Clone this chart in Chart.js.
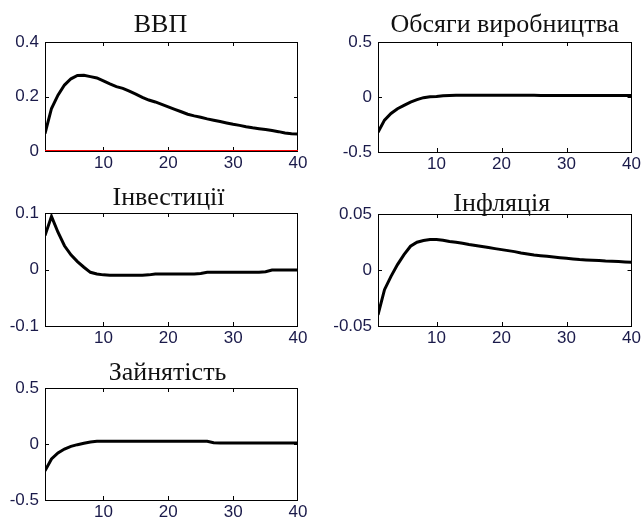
<!DOCTYPE html>
<html>
<head>
<meta charset="utf-8">
<script src="https://cdn.jsdelivr.net/npm/chart.js@4"></script>
<style>
  body { margin: 0; background: #fff; }
  #wrap { position: relative; width: 643px; height: 525px; }
  #wrap canvas { position: absolute; }
</style>
</head>
<body>
<div id="wrap"></div>
<script>
// periods of the impulse response
const periods = [1, 2, 3, 4, 5, 6, 7, 8, 9, 10, 11, 12, 13, 14, 15, 16, 17, 18, 19, 20,
                 21, 22, 23, 24, 25, 26, 27, 28, 29, 30, 31, 32, 33, 34, 35, 36, 37, 38, 39, 40];
const xTicks = [10, 20, 30, 40];

const titles = ['ВВП', 'Обсяги виробництва', 'Інвестиції', 'Інфляція', 'Зайнятість'];

const gdp = [0.064, 0.156, 0.205, 0.242, 0.265, 0.277, 0.278, 0.273, 0.268, 0.257,
             0.246, 0.236, 0.230, 0.220, 0.209, 0.197, 0.187, 0.180, 0.171, 0.162,
             0.153, 0.144, 0.135, 0.129, 0.124, 0.118, 0.113, 0.108, 0.103, 0.098,
             0.094, 0.089, 0.085, 0.082, 0.079, 0.075, 0.071, 0.066, 0.063, 0.062];
const gdpZero = [0, 0, 0, 0, 0, 0, 0, 0, 0, 0, 0, 0, 0, 0, 0, 0, 0, 0, 0, 0,
                 0, 0, 0, 0, 0, 0, 0, 0, 0, 0, 0, 0, 0, 0, 0, 0, 0, 0, 0, 0];
const output = [-0.32, -0.21, -0.15, -0.107, -0.076, -0.046, -0.024, -0.006, 0.003, 0.004,
                0.012, 0.014, 0.015, 0.015, 0.015, 0.015, 0.015, 0.015, 0.015, 0.015,
                0.015, 0.015, 0.015, 0.015, 0.015, 0.014, 0.014, 0.014, 0.014, 0.014,
                0.014, 0.014, 0.014, 0.014, 0.014, 0.014, 0.014, 0.014, 0.014, 0.013];
const investment = [0.060, 0.094, 0.066, 0.042, 0.026, 0.014, 0.004, -0.005, -0.008, -0.0095,
                    -0.010, -0.010, -0.010, -0.010, -0.010, -0.010, -0.0095, -0.008, -0.008, -0.008,
                    -0.008, -0.008, -0.008, -0.008, -0.007, -0.005, -0.005, -0.005, -0.005, -0.005,
                    -0.005, -0.005, -0.005, -0.005, -0.004, -0.001, -0.001, -0.001, -0.001, -0.001];
const inflation = [-0.040, -0.0176, -0.0057, 0.0048, 0.0137, 0.0212, 0.0248, 0.0263, 0.0272, 0.0272,
                   0.0266, 0.0254, 0.0248, 0.0239, 0.0227, 0.0218, 0.0209, 0.0200, 0.0191, 0.0182,
                   0.0173, 0.0164, 0.0152, 0.0143, 0.0134, 0.0128, 0.0122, 0.0116, 0.0110, 0.0104,
                   0.0099, 0.0093, 0.0090, 0.0087, 0.0084, 0.0080, 0.0078, 0.0075, 0.0072, 0.0070];
const employment = [-0.24, -0.134, -0.08, -0.045, -0.021, -0.006, 0.006, 0.018, 0.024, 0.024,
                    0.024, 0.024, 0.024, 0.024, 0.024, 0.024, 0.024, 0.024, 0.024, 0.024,
                    0.024, 0.024, 0.024, 0.024, 0.024, 0.024, 0.012, 0.010, 0.010, 0.010,
                    0.010, 0.010, 0.009, 0.009, 0.009, 0.009, 0.009, 0.008, 0.008, 0.008];

const gdpTicks = [0, 0.2, 0.4];
const outputTicks = [-0.5, 0, 0.5];
const investmentTicks = [-0.1, 0, 0.1];
const inflationTicks = [-0.05, 0, 0.05];
const employmentTicks = [-0.5, 0, 0.5];

// layout: cell = canvas rect, box = plot area (page px)
const panels = [
  { title: titles[0], values: gdp, zero: gdpZero, yTicks: gdpTicks, cell: [0, 0, 322, 180], box: [45, 42, 298, 151], titleDx: -11, titleGap: 10 },
  { title: titles[1], values: output, yTicks: outputTicks, cell: [322, 0, 321, 180], box: [378, 42, 632, 152], titleDx: 0, titleGap: 10 },
  { title: titles[2], values: investment, yTicks: investmentTicks, cell: [0, 180, 322, 175], box: [45, 213, 298, 326], titleDx: -3, titleGap: 8 },
  { title: titles[3], values: inflation, yTicks: inflationTicks, cell: [322, 180, 321, 175], box: [378, 214, 632, 326], titleDx: -3, titleGap: 3 },
  { title: titles[4], values: employment, yTicks: employmentTicks, cell: [0, 355, 322, 170], box: [45, 388, 298, 500], titleDx: -4, titleGap: 8 }
];

const tickFont = { family: '"Liberation Sans", Arial, sans-serif', size: 17 };
const tickColor = '#1a1a4a';

// MATLAB-like box with inward ticks
const framePlugin = {
  id: 'frame',
  beforeDatasetsDraw(chart) {
    const { ctx, chartArea: a, scales } = chart;
    ctx.save();
    ctx.strokeStyle = '#000';
    ctx.lineWidth = 1;
    ctx.strokeRect(Math.round(a.left) + 0.5, Math.round(a.top) + 0.5,
                   Math.round(a.right - a.left) - 1, Math.round(a.bottom - a.top));
    ctx.beginPath();
    scales.x.ticks.forEach(t => {
      const x = Math.round(scales.x.getPixelForValue(t.value)) + 0.5;
      if (x > a.right - 2) return;
      ctx.moveTo(x, a.top); ctx.lineTo(x, a.top + 4);
      ctx.moveTo(x, a.bottom); ctx.lineTo(x, a.bottom - 4);
    });
    scales.y.ticks.forEach(t => {
      const y = Math.round(scales.y.getPixelForValue(t.value)) + 0.5;
      if (y < a.top + 2 || y > a.bottom - 2) return;
      ctx.moveTo(a.left, y); ctx.lineTo(a.left + 4, y);
      ctx.moveTo(a.right, y); ctx.lineTo(a.right - 4, y);
    });
    ctx.stroke();
    ctx.restore();
  }
};

const titlePlugin = {
  id: 'panelTitle',
  afterDraw(chart, args, opts) {
    const { ctx, chartArea: a } = chart;
    ctx.save();
    ctx.font = '26px "Liberation Serif", "Times New Roman", serif';
    ctx.fillStyle = '#111';
    ctx.textAlign = 'center';
    ctx.textBaseline = 'alphabetic';
    ctx.fillText(opts.text, (a.left + a.right) / 2 + opts.dx, a.top - opts.gap);
    ctx.restore();
  }
};

function buildPanel(p) {
  const [cx, cy, cw, ch] = p.cell;
  const [L, T, R, B] = p.box;
  const canvas = document.createElement('canvas');
  canvas.width = cw; canvas.height = ch;
  canvas.style.left = cx + 'px'; canvas.style.top = cy + 'px';
  canvas.style.width = cw + 'px'; canvas.style.height = ch + 'px';
  document.getElementById('wrap').appendChild(canvas);

  const datasets = [{
    data: periods.map((x, i) => ({ x: x, y: p.values[i] })),
    borderColor: '#000', borderWidth: 3, pointRadius: 0, tension: 0, fill: false
  }];
  if (p.zero) {
    datasets.push({
      data: periods.map((x, i) => ({ x: x, y: p.zero[i] })),
      borderColor: '#ff0000', borderWidth: 2, pointRadius: 0, tension: 0, fill: false
    });
  }

  new Chart(canvas, {
    type: 'line',
    data: { datasets },
    options: {
      responsive: false,
      animation: false,
      layout: { padding: { left: 0, top: T - cy, right: cx + cw - R, bottom: 0 } },
      plugins: {
        legend: { display: false },
        tooltip: { enabled: false },
        panelTitle: { text: p.title, dx: p.titleDx, gap: p.titleGap }
      },
      scales: {
        x: {
          type: 'linear', min: periods[0], max: periods[periods.length - 1],
          afterBuildTicks: s => { s.ticks = xTicks.map(v => ({ value: v })); },
          afterFit: s => { s.height = cy + ch - B; },
          grid: { display: false, drawTicks: false },
          border: { display: false },
          ticks: { font: tickFont, color: tickColor, padding: 2, maxRotation: 0, autoSkip: false, callback: v => String(v) }
        },
        y: {
          min: p.yTicks[0], max: p.yTicks[p.yTicks.length - 1],
          afterBuildTicks: s => { s.ticks = p.yTicks.map(v => ({ value: v })); },
          afterFit: s => { s.width = L - cx; },
          grid: { display: false, drawTicks: false },
          border: { display: false },
          ticks: { font: tickFont, color: tickColor, padding: 6, autoSkip: false, callback: v => String(v) }
        }
      }
    },
    plugins: [framePlugin, titlePlugin]
  });
}

panels.forEach(buildPanel);
</script>
</body>
</html>
